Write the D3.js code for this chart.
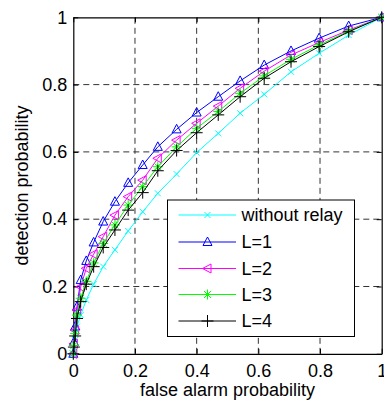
<!DOCTYPE html>
<html><head><meta charset="utf-8">
<script src="https://cdn.jsdelivr.net/npm/d3@7"></script>
<style>body{margin:0;background:#fff}svg{display:block}text{font-family:"Liberation Sans",Arial,sans-serif}</style>
</head><body><svg id="c" width="384" height="406"></svg>
<script>
const pf = [0, 0.002, 0.006, 0.012, 0.024, 0.042, 0.066, 0.097, 0.135, 0.178, 0.225, 0.274, 0.335, 0.400, 0.470, 0.541, 0.619, 0.706, 0.797, 0.893, 1];
const noRelay = [0, 0.011, 0.041, 0.081, 0.115, 0.160, 0.207, 0.259, 0.309, 0.365, 0.422, 0.477, 0.534, 0.598, 0.655, 0.715, 0.771, 0.838, 0.893, 0.947, 1];
const L1 = [0, 0.035, 0.081, 0.14, 0.219, 0.276, 0.331, 0.393, 0.452, 0.508, 0.561, 0.615, 0.667, 0.717, 0.764, 0.811, 0.858, 0.900, 0.938, 0.974, 1];
const L2 = [0, 0.03, 0.07, 0.13, 0.199, 0.254, 0.296, 0.348, 0.412, 0.467, 0.516, 0.581, 0.635, 0.685, 0.736, 0.789, 0.840, 0.888, 0.925, 0.962, 1];
const L3 = [0, 0.025, 0.06, 0.115, 0.165, 0.215, 0.27, 0.328, 0.383, 0.442, 0.497, 0.556, 0.615, 0.670, 0.720, 0.774, 0.826, 0.875, 0.918, 0.959, 1];
const L4 = [0, 0.02, 0.053, 0.105, 0.155, 0.207, 0.259, 0.316, 0.368, 0.427, 0.479, 0.544, 0.604, 0.657, 0.710, 0.764, 0.819, 0.868, 0.913, 0.957, 1];
const seriesNames = ["without relay", "L=1", "L=2", "L=3", "L=4"];
const ticks = [0, 0.2, 0.4, 0.6, 0.8, 1];
const tickLabels = ["0", "0.2", "0.4", "0.6", "0.8", "1"];

const series = [
  {name: seriesNames[0], y: noRelay, color: "#00FFFF", marker: "x"},
  {name: seriesNames[1], y: L1, color: "#0000FF", marker: "tri"},
  {name: seriesNames[2], y: L2, color: "#FF00FF", marker: "ltri"},
  {name: seriesNames[3], y: L3, color: "#00FF00", marker: "star"},
  {name: seriesNames[4], y: L4, color: "#000000", marker: "plus"}
];

const svg = d3.select("#c");
const X0 = 73.3, X1 = 381.7, Y0 = 353.8, Y1 = 17.3;
const x = d3.scaleLinear().domain([0, 1]).range([X0, X1]);
const y = d3.scaleLinear().domain([0, 1]).range([Y0, Y1]);

// grid
const g = svg.append("g");
g.selectAll(".gx").data(ticks.slice(1, -1)).enter().append("line")
  .attr("x1", d => x(d)).attr("x2", d => x(d)).attr("y1", Y0).attr("y2", Y1)
  .attr("stroke", "#333").attr("stroke-width", 1).attr("stroke-dasharray", "6,4");
g.selectAll(".gy").data(ticks.slice(1, -1)).enter().append("line")
  .attr("y1", d => y(d)).attr("y2", d => y(d)).attr("x1", X0).attr("x2", X1)
  .attr("stroke", "#333").attr("stroke-width", 1).attr("stroke-dasharray", "6,4");

// axes (inward ticks) on all four sides
const fmt = (d, i) => tickLabels[i];
const axB = svg.append("g").attr("transform", `translate(0,${Y0})`)
  .call(d3.axisBottom(x).tickValues(ticks).tickFormat(fmt).tickSizeInner(-5).tickSizeOuter(0).tickPadding(10));
const axL = svg.append("g").attr("transform", `translate(${X0},0)`)
  .call(d3.axisLeft(y).tickValues(ticks).tickFormat(fmt).tickSizeInner(-5).tickSizeOuter(0).tickPadding(6));
const axT = svg.append("g").attr("transform", `translate(0,${Y1})`)
  .call(d3.axisTop(x).tickValues(ticks).tickFormat("").tickSizeInner(-5).tickSizeOuter(0));
const axR = svg.append("g").attr("transform", `translate(${X1},0)`)
  .call(d3.axisRight(y).tickValues(ticks).tickFormat("").tickSizeInner(-5).tickSizeOuter(0));
[axB, axL, axT, axR].forEach(a => {
  a.selectAll("path").attr("stroke", "#000").attr("stroke-width", 1.2);
  a.selectAll("line").attr("stroke", "#000");
  a.selectAll("text").attr("font-size", 18).attr("fill", "#000")
    .attr("font-family", "'Liberation Sans', Arial, sans-serif");
});
axB.selectAll("text").attr("dy", "0.71em");

// axis labels
svg.append("text").attr("x", (X0 + X1) / 2).attr("y", 396).attr("text-anchor", "middle")
  .attr("font-size", 18).text("false alarm probability");
svg.append("text").attr("transform", `translate(28,${(Y0 + Y1) / 2}) rotate(-90)`)
  .attr("text-anchor", "middle").attr("font-size", 18).text("detection probability");

function marker(sel, type, color) {
  const s = 4;
  if (type === "x") {
    sel.append("path").attr("d", `M${-3},${-3}L3,3M-3,3L3,-3`).attr("stroke", color).attr("fill", "none");
  } else if (type === "tri") {
    sel.append("path").attr("d", `M0,${-5}L4.5,3.5L-4.5,3.5Z`).attr("stroke", color).attr("fill", "none");
  } else if (type === "ltri") {
    sel.append("path").attr("d", `M${-5},0L3.5,-4.5L3.5,4.5Z`).attr("stroke", color).attr("fill", "none");
  } else if (type === "star") {
    sel.append("path").attr("d", `M0,-5L0,5M-5,0L5,0M-3.5,-3.5L3.5,3.5M-3.5,3.5L3.5,-3.5`).attr("stroke", color).attr("fill", "none");
  } else if (type === "plus") {
    sel.append("path").attr("d", `M0,-6L0,6M-6,0L6,0`).attr("stroke", color).attr("fill", "none");
  }
}

const line = d3.line().x((d, i) => x(pf[i])).y(d => y(d));
series.forEach(s => {
  svg.append("path").attr("d", line(s.y)).attr("fill", "none").attr("stroke", s.color).attr("stroke-width", 1);
  s.y.forEach((v, i) => {
    const m = svg.append("g").attr("transform", `translate(${x(pf[i])},${y(v)})`);
    marker(m, s.marker, s.color);
  });
});

// legend
const lg = svg.append("g");
lg.append("rect").attr("x", 167.5).attr("y", 200).attr("width", 187).attr("height", 136.5)
  .attr("fill", "#fff").attr("stroke", "#000").attr("stroke-width", 1);
const rowY = [215, 242, 268.5, 294.5, 321];
series.forEach((s, i) => {
  lg.append("line").attr("x1", 178.5).attr("x2", 236).attr("y1", rowY[i]).attr("y2", rowY[i])
    .attr("stroke", s.color).attr("stroke-width", 1);
  marker(lg.append("g").attr("transform", `translate(207.5,${rowY[i]})`), s.marker, s.color);
  lg.append("text").attr("x", 241.5).attr("y", rowY[i]).attr("dy", "0.36em")
    .attr("font-size", 18).text(s.name);
});
</script></body></html>
